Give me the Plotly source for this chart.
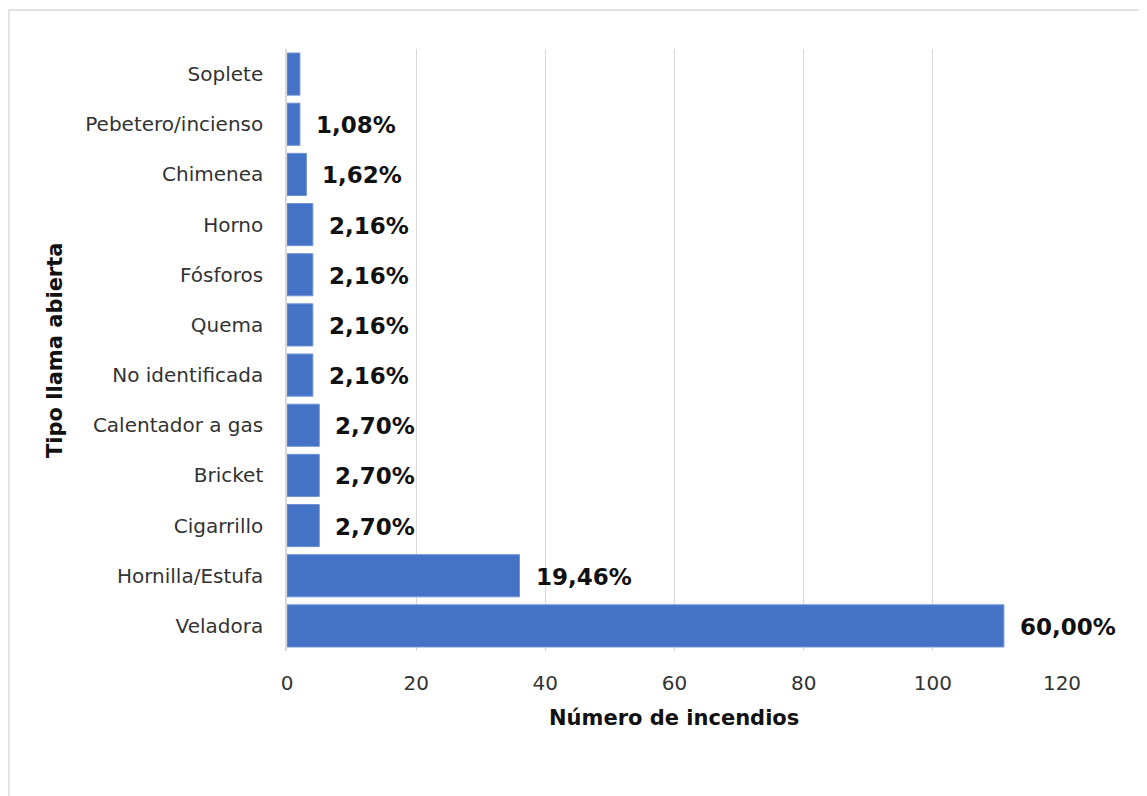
import plotly.graph_objects as go

# Tipo de llama abierta vs número de incendios
categorias = ["Veladora", "Hornilla/Estufa", "Cigarrillo", "Bricket", "Calentador a gas",
              "No identificada", "Quema", "Fósforos", "Horno", "Chimenea",
              "Pebetero/incienso", "Soplete"]
incendios = [111, 36, 5, 5, 5, 4, 4, 4, 4, 3, 2, 2]
etiquetas = ["60,00%", "19,46%", "2,70%", "2,70%", "2,70%", "2,16%", "2,16%",
             "2,16%", "2,16%", "1,62%", "1,08%", ""]

W, H = 1147, 796
OFF = 8  # margen del body de la página
ml, mr, mt, mb = 287 - OFF, 85 + OFF, 49 - OFF, 145 + OFF

fig = go.Figure()
fig.add_trace(go.Bar(
    y=categorias, x=incendios, orientation="h",
    marker_color="#4472C4",
    marker_line=dict(color="#6F93D6", width=1),
    hoverinfo="x+y",
))

# etiquetas de datos a la derecha de cada barra
for c, v, t in zip(categorias, incendios, etiquetas):
    if t:
        fig.add_annotation(x=v, y=c, text="<b>" + t + "</b>", showarrow=False,
                           xanchor="left", xshift=14, yshift=-1,
                           font=dict(family="DejaVu Sans", size=23, color="#111111"))

pw = W - ml - mr
ph = H - mt - mb


def px(x):
    return (x - OFF - ml) / pw


def py(y):
    return (H - mb - (y - OFF)) / ph


# marco exterior del gráfico
fig.add_shape(type="rect", xref="paper", yref="paper",
              x0=px(OFF + 1), x1=px(W + 20), y0=py(H + 20), y1=py(10),
              line=dict(color="#D9D9D9", width=1.5), layer="below")

fig.add_annotation(text="<b>Número de incendios</b>", xref="paper", yref="paper",
                   x=px(674), y=py(718), xanchor="center", yanchor="middle", showarrow=False,
                   font=dict(family="DejaVu Sans", size=21, color="#111111"))
fig.add_annotation(text="<b>Tipo llama abierta</b>", xref="paper", yref="paper",
                   x=px(55), y=py(350), xanchor="center", yanchor="middle",
                   showarrow=False, textangle=-90,
                   font=dict(family="DejaVu Sans", size=21, color="#111111"))

fig.update_layout(
    width=W, height=H,
    margin=dict(l=ml, r=mr, t=mt, b=mb),
    paper_bgcolor="white", plot_bgcolor="white",
    bargap=0.16,
    showlegend=False,
    font=dict(family="DejaVu Sans", size=20, color="#333333"),
)
fig.update_xaxes(range=[0, 120], dtick=20, showgrid=True, gridcolor="#D9D9D9",
                 gridwidth=1, zeroline=False, showline=False,
                 ticks="", ticklabelstandoff=18, tickfont=dict(size=20, color="#333333"))
fig.update_yaxes(showline=True, linecolor="#D9D9D9", linewidth=1.5, ticks="",
                 ticklabelstandoff=18, tickfont=dict(size=20, color="#333333"),
                 categoryorder="array", categoryarray=categorias)

fig.write_html("out.html")
